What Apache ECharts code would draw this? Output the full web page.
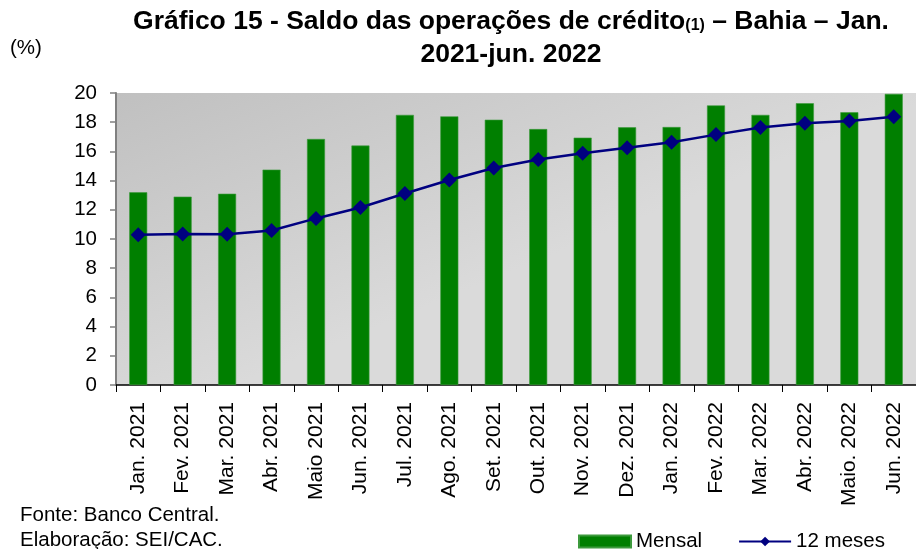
<!DOCTYPE html>
<html>
<head>
<meta charset="utf-8">
<script src="https://cdn.jsdelivr.net/npm/echarts@6/dist/echarts.min.js"></script>
<style>
  html, body { margin: 0; padding: 0; background: #fff; }
  #chart { width: 916px; height: 549px; }
</style>
</head>
<body>
<div id="chart"></div>
<script>
// Saldo das operações de crédito - Bahia (%)
var meses = ['Jan. 2021', 'Fev. 2021', 'Mar. 2021', 'Abr. 2021', 'Maio 2021', 'Jun. 2021',
  'Jul. 2021', 'Ago. 2021', 'Set. 2021', 'Out. 2021', 'Nov. 2021', 'Dez. 2021',
  'Jan. 2022', 'Fev. 2022', 'Mar. 2022', 'Abr. 2022', 'Maio. 2022', 'Jun. 2022'];
var mensal = [13.2, 12.9, 13.1, 14.75, 16.85, 16.4, 18.5, 18.4, 18.17, 17.53, 16.94, 17.65,
  17.67, 19.15, 18.5, 19.3, 18.68, 19.94];
var dozeMeses = [10.29, 10.35, 10.33, 10.58, 11.41, 12.16, 13.12, 14.04, 14.86, 15.45, 15.87, 16.25,
  16.62, 17.15, 17.63, 17.92, 18.08, 18.38];
var yTicks = [0, 20, 2]; // min, max, intervalo

var font = 'Arial, "Liberation Sans", sans-serif';
var chart = echarts.init(document.getElementById('chart'));

chart.setOption({
  animation: false,
  textStyle: { fontFamily: font },
  grid: {
    left: 116,
    right: -4,
    top: 93,
    bottom: 164,
    show: true,
    borderWidth: 0,
    backgroundColor: new echarts.graphic.LinearGradient(0, 0, 0.15, 1, [
      { offset: 0, color: '#c0c0c0' },
      { offset: 1, color: '#dadada' }
    ])
  },
  xAxis: {
    type: 'category',
    data: meses,
    axisLine: { lineStyle: { color: '#000', width: 1.5 } },
    axisTick: { show: true, length: 7, lineStyle: { color: '#000' } },
    axisLabel: {
      rotate: 90,
      color: '#000',
      fontSize: 21,
      fontFamily: font,
      margin: 17
    }
  },
  yAxis: {
    type: 'value',
    min: yTicks[0],
    max: yTicks[1],
    interval: yTicks[2],
    splitLine: { show: false },
    axisLine: { show: true, lineStyle: { color: '#808080', width: 2 } },
    axisTick: { show: true, length: 6, lineStyle: { color: '#808080', width: 1.5 } },
    axisLabel: { color: '#000', fontSize: 20.5, fontFamily: font, margin: 19 }
  },
  legend: {
    left: 578,
    top: 531,
    padding: 0,
    itemGap: 36,
    itemWidth: 52,
    itemHeight: 12,
    textStyle: { color: '#000', fontSize: 20.5, fontFamily: font },
    data: [
      { name: 'Mensal', icon: 'rect' },
      { name: '12 meses' }
    ]
  },
  series: [{
    name: 'Mensal',
    type: 'bar',
    data: mensal,
    barWidth: 18,
    itemStyle: { color: '#007f00', borderColor: '#3d9a3d', borderWidth: 0.6 }
  }, {
    name: '12 meses',
    type: 'line',
    data: dozeMeses,
    symbol: 'diamond',
    symbolSize: 15,
    lineStyle: { color: '#000080', width: 2.5 },
    itemStyle: { color: '#000080' }
  }],
  graphic: [{
    type: 'text',
    left: 10,
    top: 38,
    style: { text: '(%)', fontSize: 20.5, fontFamily: font, fill: '#000' }
  }, {
    type: 'text',
    x: 511,
    y: 22,
    style: {
      text: '{b|Gráfico 15 - Saldo das operações de crédito}{s|(1)}{b| – Bahia – Jan.}',
      align: 'center',
      verticalAlign: 'middle',
      rich: {
        b: { fontSize: 26.5, fontWeight: 'bold', fontFamily: font, fill: '#000' },
        s: { fontSize: 16, fontWeight: 'bold', fontFamily: font, fill: '#000', padding: [8, 0, 0, 0] }
      }
    }
  }, {
    type: 'text',
    x: 511,
    y: 55,
    style: {
      text: '2021-jun. 2022',
      align: 'center',
      verticalAlign: 'middle',
      fontSize: 26.5, fontWeight: 'bold', fontFamily: font, fill: '#000'
    }
  }, {
    type: 'text',
    left: 20,
    top: 505,
    style: { text: 'Fonte: Banco Central.', fontSize: 20.5, fontFamily: font, fill: '#000' }
  }, {
    type: 'text',
    left: 20,
    top: 530,
    style: { text: 'Elaboração: SEI/CAC.', fontSize: 20.5, fontFamily: font, fill: '#000' }
  }]
});
</script>
</body>
</html>
